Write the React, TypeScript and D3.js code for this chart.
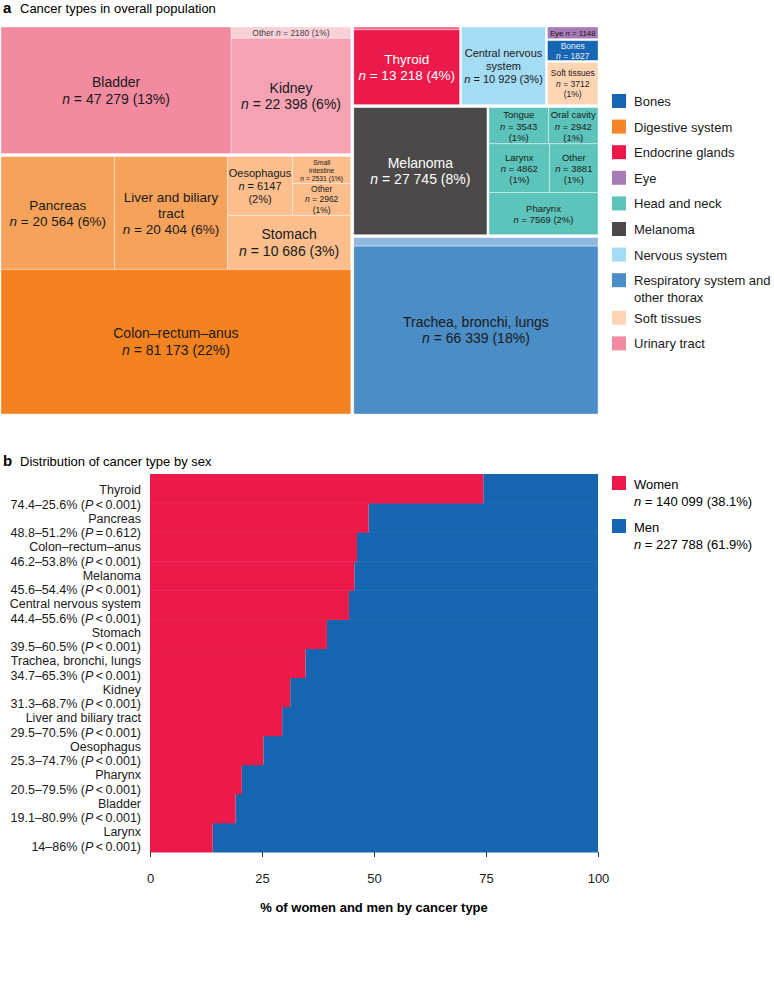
import React, { useEffect, useRef } from "react";
import * as d3 from "d3";

// ---- panel a data (n per cancer type) ----
const urinaryTract = [
  { id: "bladder", name: "Bladder", n: 47279 },
  { id: "kidney", name: "Kidney", n: 22398 },
  { id: "urinaryOther", name: "Other", n: 2180 },
];
const digestiveSystem = [
  { id: "colon", name: "Colon–rectum–anus", n: 81173 },
  { id: "pancreas", name: "Pancreas", n: 20564 },
  { id: "liver", name: "Liver and biliary tract", n: 20404 },
  { id: "stomach", name: "Stomach", n: 10686 },
  { id: "oesophagus", name: "Oesophagus", n: 6147 },
  { id: "digestiveOther", name: "Other", n: 2962 },
  { id: "smallIntestine", name: "Small intestine", n: 2531 },
];
const respiratorySystem = [
  { id: "lungs", name: "Trachea, bronchi, lungs", n: 66339 },
  { id: "thoraxOther", name: "Other thorax", n: 3350 },
];
const melanomaGroup = [{ id: "melanoma", name: "Melanoma", n: 27745 }];
const headAndNeck = [
  { id: "pharynx", name: "Pharynx", n: 7569 },
  { id: "larynx", name: "Larynx", n: 4862 },
  { id: "hnOther", name: "Other", n: 3881 },
  { id: "tongue", name: "Tongue", n: 3543 },
  { id: "oralCavity", name: "Oral cavity", n: 2942 },
];
const endocrineGlands = [
  { id: "thyroid", name: "Thyroid", n: 13218 },
  { id: "endocrineOther", name: "Other", n: 498 },
];
const nervousSystem = [{ id: "cns", name: "Central nervous system", n: 10929 }];
const softTissues = [{ id: "soft", name: "Soft tissues", n: 3712 }];
const bonesGroup = [{ id: "bones", name: "Bones", n: 1827 }];
const eyeGroup = [{ id: "eye", name: "Eye", n: 1148 }];

const legendA = [
  "Bones", "Digestive system", "Endocrine glands", "Eye", "Head and neck",
  "Melanoma", "Nervous system", "Respiratory system and\nother thorax",
  "Soft tissues", "Urinary tract",
];

// ---- panel b data ----
const sexCategories = [
  "Thyroid", "Pancreas", "Colon–rectum–anus", "Melanoma", "Central nervous system",
  "Stomach", "Trachea, bronchi, lungs", "Kidney", "Liver and biliary tract",
  "Oesophagus", "Pharynx", "Bladder", "Larynx",
];
const womenPct = [74.4, 48.8, 46.2, 45.6, 44.4, 39.5, 34.7, 31.3, 29.5, 25.3, 20.5, 19.1, 14];
const menPct = [25.6, 51.2, 53.8, 54.4, 55.6, 60.5, 65.3, 68.7, 70.5, 74.7, 79.5, 80.9, 86];
const pValues = ["< 0.001", "= 0.612", "< 0.001", "< 0.001", "< 0.001", "< 0.001", "< 0.001",
  "< 0.001", "< 0.001", "< 0.001", "< 0.001", "< 0.001", "< 0.001"];
const sexNames = ["Women", "Men"];
const sexTotals = [140099, 227788];
const sexShares = ["38.1", "61.9"];
const xTicks = [0, 25, 50, 75, 100];

const TOTAL = 367887;

const legendColors = ["#1766b3", "#f5872a", "#ec1a4b", "#a77bb5", "#5cc4bb", "#4b4949",
  "#a4dbf5", "#4b8dc6", "#fdd5b5", "#f28aa0"];

const cellFill: Record<string, string> = {
  bladder: "#f28aa0", kidney: "#f5a2b5", urinaryOther: "#f9cfd8",
  colon: "#f58220", pancreas: "#f7a25a", liver: "#f7a25a",
  stomach: "#fbbe8c", oesophagus: "#fbbe8c", digestiveOther: "#fbbe8c", smallIntestine: "#fbbe8c",
  lungs: "#4b8dc6", thoraxOther: "#8fb8de",
  melanoma: "#4b4949",
  pharynx: "#5cc4bb", larynx: "#5cc4bb", hnOther: "#5cc4bb", tongue: "#5cc4bb", oralCavity: "#5cc4bb",
  thyroid: "#ec1a4b", endocrineOther: "#f06b88",
  cns: "#a4dbf5", soft: "#fdd5b5", bones: "#1766b3", eye: "#a77bb5",
};

// label templates: {n} count, {p} percent
const cellLabel: Record<string, { lines: string[]; size: number; color?: string }> = {
  bladder: { lines: ["Bladder", "n = {n} ({p}%)"], size: 14 },
  kidney: { lines: ["Kidney", "n = {n} ({p}%)"], size: 14 },
  urinaryOther: { lines: ["Other n = {n} ({p}%)"], size: 8.5, color: "#444" },
  colon: { lines: ["Colon–rectum–anus", "n = {n} ({p}%)"], size: 14 },
  pancreas: { lines: ["Pancreas", "n = {n} ({p}%)"], size: 13.5 },
  liver: { lines: ["Liver and biliary", "tract", "n = {n} ({p}%)"], size: 13.5 },
  stomach: { lines: ["Stomach", "n = {n} ({p}%)"], size: 14 },
  oesophagus: { lines: ["Oesophagus", "n = {n}", "({p}%)"], size: 11 },
  smallIntestine: { lines: ["Small", "intestine", "n = {n} ({p}%)"], size: 6.8 },
  digestiveOther: { lines: ["Other", "n = {n}", "({p}%)"], size: 8.5 },
  lungs: { lines: ["Trachea, bronchi, lungs", "n = {n} ({p}%)"], size: 14 },
  melanoma: { lines: ["Melanoma", "n = {n} ({p}%)"], size: 14, color: "#fff" },
  tongue: { lines: ["Tongue", "n = {n}", "({p}%)"], size: 9.5 },
  oralCavity: { lines: ["Oral cavity", "n = {n}", "({p}%)"], size: 9.5 },
  larynx: { lines: ["Larynx", "n = {n}", "({p}%)"], size: 9.5 },
  hnOther: { lines: ["Other", "n = {n}", "({p}%)"], size: 9.5 },
  pharynx: { lines: ["Pharynx", "n = {n} ({p}%)"], size: 9.5 },
  thyroid: { lines: ["Thyroid", "n = {n} ({p}%)"], size: 13.5, color: "#fff" },
  cns: { lines: ["Central nervous", "system", "n = {n} ({p}%)"], size: 11 },
  soft: { lines: ["Soft tissues", "n = {n}", "({p}%)"], size: 8.5 },
  bones: { lines: ["Bones", "n = {n}"], size: 8.5, color: "#e8f0fa" },
  eye: { lines: ["Eye n = {n}"], size: 7.8 },
};

const fmtN = (v: number) => (v >= 10000 ? d3.format(",")(v).replace(/,/g, " ") : String(v));

// layout tree: h = side by side, v = stacked
const H = (gap: number, ...children: any[]) => ({ dir: "h", gap, children });
const V = (gap: number, ...children: any[]) => ({ dir: "v", gap, children });

const treeData = H(3,
  V(3,
    H(0, urinaryTract[0], V(0, urinaryTract[2], urinaryTract[1])),
    V(0,
      H(0, digestiveSystem[1], digestiveSystem[2],
        V(0, H(0, digestiveSystem[4], V(0, digestiveSystem[6], digestiveSystem[5])), digestiveSystem[3])),
      digestiveSystem[0])
  ),
  V(3,
    H(2,
      V(0, endocrineGlands[1], endocrineGlands[0]),
      nervousSystem[0],
      V(2, eyeGroup[0], bonesGroup[0], softTissues[0])),
    H(2,
      melanomaGroup[0],
      V(0, H(0, headAndNeck[3], headAndNeck[4]), H(0, headAndNeck[1], headAndNeck[2]), headAndNeck[0])),
    V(0, respiratorySystem[1], respiratorySystem[0])
  )
);

const FONT = "'Liberation Sans', Arial, Helvetica, sans-serif";

function addLine(text: d3.Selection<any, any, any, any>, str: string, x: number, y: number) {
  const line = text.append("tspan").attr("x", x).attr("y", y);
  const parts = str.split(/(\bn(?= [=<]))/);
  parts.forEach((p) => {
    if (!p) return;
    line.append("tspan").attr("font-style", p === "n" ? "italic" : null).text(p);
  });
}

const App = () => {
  const ref = useRef<SVGSVGElement | null>(null);

  useEffect(() => {
    document.body.style.margin = "0";
    if (!ref.current) return;
    const svg = d3.select(ref.current);
    svg.selectAll("*").remove();
    svg.attr("font-family", FONT);

    // ---------- panel a ----------
    svg.append("text").attr("x", 3).attr("y", 13).attr("font-size", 15).attr("font-weight", "bold").text("a");
    svg.append("text").attr("x", 20).attr("y", 13).attr("font-size", 13).text("Cancer types in overall population");

    const root = d3.hierarchy<any>(treeData).sum((d) => d.n || 0);
    d3.treemap<any>()
      .size([597, 387])
      .tile((node: any, x0, y0, x1, y1) =>
        (node.data.dir === "h" ? d3.treemapDice : d3.treemapSlice)(node, x0, y0, x1, y1))
      .paddingInner((node: any) => node.data.gap || 0)(root);

    const gA = svg.append("g").attr("transform", "translate(1,27)");
    const leaves = gA.selectAll("g.cell").data(root.leaves()).enter().append("g").attr("class", "cell");
    leaves.append("rect")
      .attr("x", (d: any) => d.x0)
      .attr("y", (d: any) => d.y0)
      .attr("width", (d: any) => d.x1 - d.x0)
      .attr("height", (d: any) => d.y1 - d.y0)
      .attr("fill", (d: any) => cellFill[d.data.id])
      .attr("stroke", "rgba(255,255,255,0.45)")
      .attr("stroke-width", 0.8);

    leaves.each(function (d: any) {
      const lab = cellLabel[d.data.id];
      if (!lab) return;
      const cx = (d.x0 + d.x1) / 2;
      const cy = (d.y0 + d.y1) / 2;
      const lh = lab.size * 1.18;
      const pct = Math.round((d.data.n / TOTAL) * 100);
      const t = d3.select(this).append("text")
        .attr("text-anchor", "middle")
        .attr("dominant-baseline", "central")
        .attr("font-size", lab.size)
        .attr("fill", lab.color || "#1a1a1a");
      lab.lines.forEach((l, i) => {
        const s = l.replace("{n}", fmtN(d.data.n)).replace("{p}", String(pct));
        addLine(t, s, cx, cy + (i - (lab.lines.length - 1) / 2) * lh);
      });
    });

    const legA = svg.append("g").attr("transform", "translate(612,0)");
    let ly = 101;
    legendA.forEach((name, i) => {
      legA.append("rect").attr("x", 0).attr("y", ly - 7).attr("width", 14).attr("height", 14).attr("fill", legendColors[i]);
      const t = legA.append("text").attr("font-size", 13).attr("fill", "#1a1a1a").attr("dominant-baseline", "central");
      name.split("\n").forEach((s, j) => t.append("tspan").attr("x", 22).attr("y", ly + j * 17).text(s));
      ly += 25.6 + (name.split("\n").length - 1) * 12;
    });

    // ---------- panel b ----------
    svg.append("text").attr("x", 3).attr("y", 466).attr("font-size", 15).attr("font-weight", "bold").text("b");
    svg.append("text").attr("x", 20).attr("y", 466).attr("font-size", 13).text("Distribution of cancer type by sex");

    const x = d3.scaleLinear().domain([0, 100]).range([150, 598]);
    const y = d3.scaleBand().domain(sexCategories).range([474, 852]).padding(0);
    // two-line row labels sit on their own even grid
    const yLab = d3.scalePoint().domain(sexCategories).range([497.5, 839.5]);
    const gB = svg.append("g");

    gB.selectAll("rect.men").data(sexCategories).enter().append("rect")
      .attr("x", (_, i) => x(womenPct[i]))
      .attr("y", (d) => y(d) as number)
      .attr("width", (_, i) => x(womenPct[i] + menPct[i]) - x(womenPct[i]))
      .attr("height", y.bandwidth() + 0.5)
      .attr("fill", "#1565b0");
    gB.selectAll("rect.women").data(sexCategories).enter().append("rect")
      .attr("x", x(0))
      .attr("y", (d) => y(d) as number)
      .attr("width", (_, i) => x(womenPct[i]) - x(0))
      .attr("height", y.bandwidth() + 0.5)
      .attr("fill", "#ec1a4b");

    sexCategories.forEach((c, i) => {
      const cy = yLab(c) as number;
      const t = gB.append("text").attr("text-anchor", "end").attr("font-size", 12.5)
        .attr("fill", "#1a1a1a").attr("dominant-baseline", "central");
      t.append("tspan").attr("x", 141).attr("y", cy - 7.2).text(c);
      const l2 = t.append("tspan").attr("x", 141).attr("y", cy + 7.2);
      l2.append("tspan").text(`${womenPct[i]}–${menPct[i]}% (`);
      l2.append("tspan").attr("font-style", "italic").text("P");
      l2.append("tspan").text(`\u2009${pValues[i].replace(" ", "\u2009")})`);
    });

    const axis = gB.append("g").attr("transform", "translate(0,852)")
      .call(d3.axisBottom(x).tickValues(xTicks).tickSize(5).tickPadding(17));
    axis.select(".domain").remove();
    axis.selectAll(".tick line").attr("stroke", "#333");
    axis.selectAll("text").attr("font-size", 13).attr("font-family", FONT).attr("fill", "#1a1a1a");

    gB.append("text").attr("x", 374).attr("y", 907).attr("text-anchor", "middle")
      .attr("font-size", 13).attr("font-weight", "bold").attr("dominant-baseline", "central")
      .text("% of women and men by cancer type");

    const legB = svg.append("g").attr("transform", "translate(612,0)");
    sexNames.forEach((s, i) => {
      const top = 476 + i * 43;
      legB.append("rect").attr("x", 0).attr("y", top).attr("width", 14).attr("height", 14)
        .attr("fill", i === 0 ? "#ec1a4b" : "#1565b0");
      legB.append("text").attr("x", 22).attr("y", top + 8).attr("font-size", 13)
        .attr("dominant-baseline", "central").text(s);
      const t = legB.append("text").attr("font-size", 13).attr("dominant-baseline", "central");
      addLine(t, `n = ${fmtN(sexTotals[i])} (${sexShares[i]}%)`, 22, top + 25);
    });
  }, []);

  return <svg ref={ref} width={774} height={1001} style={{ display: "block" }} />;
};

export default App;
